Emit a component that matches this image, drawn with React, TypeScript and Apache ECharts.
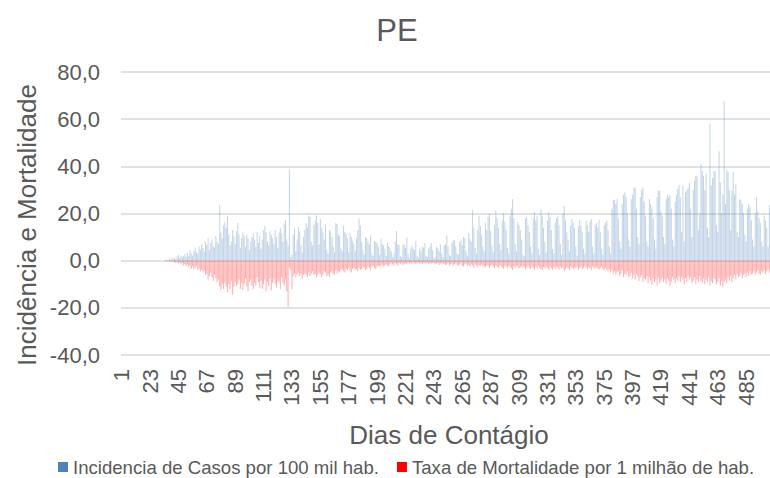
import React, { useEffect, useRef } from "react";
import * as echarts from "echarts";

const TITLE = "PE";
const SERIES_NAMES = ["Incidencia de Casos por 100 mil hab.", "Taxa de Mortalidade por 1 milhão de hab."];
const Y_TICKS = { min: -40, max: 80, interval: 20 };

const incidencia = [
  0,0,0,0,0,0,0,0,0,0,
  0,0,0,0,0,0,0,0,0,0,
  0,0,0,0,0,0,0,0,0,0,
  0,0,0,0,0.3,0.5,0.2,1.0,0.4,1.2,
  0.8,1.5,0.6,1.8,2.5,1.0,2.2,1.4,2.0,2.8,
  1.5,3.2,2.0,4.5,3.0,2.2,4.0,5.5,3.5,2.8,
  6.0,4.5,7.0,5.5,3.8,8.0,6.5,9.5,4.5,7.5,
  9.0,6.0,5.5,10.5,8.0,7.0,23.7,12.0,9.5,15.0,
  16.5,14.0,19.0,11.0,6.5,8.0,13.0,10.5,7.0,12.5,
  16.0,11.0,5.5,9.5,12.0,10.5,6.0,11.0,9.5,4.5,
  8.0,10.0,11.5,9.0,6.0,12.0,7.5,10.5,5.0,9.0,
  13.0,14.7,12.0,8.0,6.5,12.5,11.0,9.5,7.0,13.0,
  10.0,5.5,12.0,14.0,11.5,8.0,15.5,17.4,9.0,6.5,
  38.5,1.5,2.5,11.0,13.5,4.0,9.0,14.3,12.5,6.5,
  3.5,10.0,13.0,16.0,14.0,19.2,18.5,8.0,6.5,15.0,
  17.0,19.2,16.0,7.0,17.8,14.0,12.0,9.0,15.4,4.5,
  3.0,13.0,12.5,10.0,6.0,3.5,16.0,15.5,11.0,10.5,
  5.0,4.0,14.7,12.0,11.5,9.5,3.5,11.5,10.0,8.5,
  7.0,4.0,9.5,13.0,17.8,15.0,8.0,4.5,2.5,10.0,
  9.5,8.0,7.0,10.8,3.0,2.0,8.5,8.0,7.5,6.0,
  2.5,9.4,7.0,6.5,5.0,2.0,7.5,6.0,5.5,4.0,
  1.5,3.0,8.0,12.6,7.0,6.5,2.0,1.5,6.5,7.0,
  5.5,9.7,3.0,1.0,5.0,6.5,5.0,4.5,8.4,2.0,
  1.0,5.5,4.0,6.0,5.5,7.5,2.0,1.5,5.0,6.0,
  7.5,4.5,1.0,1.5,6.0,5.5,4.0,7.0,3.0,1.5,
  6.5,7.0,10.8,6.0,2.5,2.0,7.5,8.7,8.5,6.0,
  3.0,2.5,8.0,9.0,6.5,10.0,9.5,4.0,2.0,11.9,
  9.0,8.0,21.5,14.0,5.5,3.0,13.0,19.0,14.7,11.0,
  6.0,4.0,16.0,13.0,18.5,20.0,12.5,6.5,3.5,15.0,
  21.3,18.0,14.0,7.0,4.5,17.0,20.2,16.5,13.0,5.5,
  3.0,19.0,22.0,26.0,18.0,7.0,4.0,16.4,15.0,13.0,
  9.0,2.5,2.0,17.8,18.5,15.0,12.0,6.0,3.0,18.0,
  20.6,17.0,19.0,5.0,2.5,21.8,19.0,14.0,8.0,3.5,
  17.0,20.4,18.5,13.0,5.0,3.0,16.0,18.0,18.8,15.0,
  7.0,2.5,20.0,23.2,17.0,12.0,9.0,4.0,15.0,17.8,
  16.0,14.0,6.0,2.0,14.5,17.1,15.0,12.0,5.0,3.0,
  17.0,15.0,12.0,16.5,17.7,6.0,3.0,15.0,16.0,14.0,
  17.3,12.0,5.0,2.5,15.0,16.0,17.0,13.0,6.0,3.0,
  22.0,25.6,25.8,24.0,26.0,18.0,8.0,5.0,24.0,28.0,
  29.0,27.0,20.0,9.0,6.0,26.0,28.0,31.0,30.9,22.0,
  10.0,7.0,27.0,30.0,30.9,25.0,19.0,8.0,6.0,26.3,
  24.0,22.0,18.0,9.0,5.0,27.0,30.0,29.5,21.0,19.0,
  10.0,7.0,26.0,28.0,27.0,28.0,22.0,9.0,6.0,25.0,
  28.0,30.5,32.0,27.0,12.0,31.9,8.0,29.0,30.0,31.0,
  33.0,22.0,10.0,30.0,34.0,36.0,35.7,13.0,20.0,41.0,
  38.0,36.0,30.0,37.0,14.0,10.0,58.0,32.0,35.0,38.0,
  37.8,15.0,12.0,46.4,33.0,20.0,28.0,67.5,24.0,38.5,
  37.5,30.0,13.0,29.8,37.5,28.0,32.3,12.0,10.0,26.0,
  25.6,24.0,20.0,11.0,8.0,22.0,24.0,22.7,17.0,9.0,
  6.0,20.0,27.0,21.0,18.0,16.0,8.0,6.0,19.2,17.0,
  14.0,6.0,23.5
];

const mortalidade = [
  0,0,0,0,0,0,0,0,0,0,
  0,0,0,0,0,0,0,0,0,0,
  0,0,0,0,0,0,0,0,0,0,
  0,0,0,0,-0.2,-0.3,0,-0.5,-0.2,-0.6,
  -0.4,-0.8,-1.0,-0.5,-1.2,-0.8,-1.5,-1.0,-2.0,-1.4,
  -2.2,-1.6,-2.8,-2.0,-3.5,-2.5,-3.8,-3.0,-2.2,-4.0,
  -3.2,-4.5,-3.8,-5.0,-4.2,-6.0,-5.5,-8.0,-6.5,-5.0,
  -7.0,-8.5,-6.0,-7.5,-9.0,-8.0,-11.0,-12.5,-10.0,-12.0,
  -9.5,-11.0,-13.4,-10.0,-12.0,-8.5,-14.3,-11.0,-9.0,-10.5,
  -10.0,-8.0,-12.0,-9.5,-12.5,-10.0,-7.5,-11.0,-13.0,-9.0,
  -8.0,-10.5,-12.0,-9.5,-10.6,-7.0,-9.0,-11.5,-8.5,-12.0,
  -10.0,-8.0,-13.0,-9.0,-11.0,-7.5,-12.5,-9.5,-8.0,-10.0,
  -11.5,-8.5,-9.0,-12.0,-7.0,-9.5,-10.5,-8.0,-13.0,-19.5,
  -3.0,-4.0,-12.2,-6.5,-5.5,-7.0,-6.0,-5.0,-6.5,-5.5,
  -7.5,-6.0,-5.5,-6.0,-7.0,-5.0,-6.5,-5.5,-4.5,-6.0,
  -5.5,-7.0,-6.0,-5.0,-5.5,-7.0,-6.0,-4.5,-5.0,-6.5,
  -6.0,-7.0,-5.0,-4.5,-5.5,-6.0,-4.0,-5.5,-4.5,-5.0,
  -4.0,-3.5,-4.5,-5.0,-3.5,-4.0,-3.0,-4.5,-5.0,-3.5,
  -3.0,-4.0,-3.5,-4.5,-3.0,-4.0,-3.5,-2.5,-3.0,-4.0,
  -3.5,-2.5,-3.0,-4.0,-2.5,-2.0,-3.0,-3.5,-2.5,-2.0,
  -2.5,-2.0,-1.5,-2.5,-2.0,-1.5,-2.0,-2.5,-1.5,-1.0,
  -1.5,-2.0,-1.0,-1.5,-2.0,-1.0,-1.5,-1.0,-2.0,-1.5,
  -1.0,-1.5,-0.8,-1.2,-1.0,-1.5,-0.8,-1.0,-1.5,-1.0,
  -0.8,-1.2,-1.0,-1.5,-0.8,-1.0,-1.2,-0.8,-1.5,-1.0,
  -1.2,-0.8,-1.0,-1.5,-1.2,-1.0,-1.8,-1.2,-1.0,-1.5,
  -1.2,-1.8,-1.5,-1.0,-2.0,-1.5,-1.2,-2.0,-1.5,-1.0,
  -1.8,-2.2,-1.5,-1.0,-2.0,-2.5,-1.5,-1.2,-2.2,-1.8,
  -2.5,-1.5,-2.0,-3.0,-1.5,-2.0,-2.8,-1.8,-2.2,-1.5,
  -2.0,-3.0,-2.5,-1.8,-2.2,-3.0,-2.0,-1.5,-2.5,-3.2,
  -2.0,-2.5,-3.0,-1.8,-2.2,-2.8,-3.5,-2.0,-2.5,-3.0,
  -2.2,-2.8,-3.2,-4.0,-2.5,-3.0,-2.0,-2.5,-3.2,-2.8,
  -2.0,-3.0,-2.5,-3.5,-2.8,-2.2,-3.0,-3.5,-2.5,-3.0,
  -3.8,-2.5,-3.2,-2.0,-3.0,-3.5,-4.0,-2.8,-3.2,-2.5,
  -3.0,-3.8,-2.5,-3.2,-4.0,-2.8,-3.5,-2.5,-3.0,-3.8,
  -2.5,-3.2,-3.0,-4.5,-3.5,-2.8,-3.2,-4.0,-2.5,-3.0,
  -3.5,-2.8,-3.2,-2.5,-3.8,-3.0,-2.5,-3.5,-3.0,-2.2,
  -3.0,-3.5,-2.8,-3.2,-4.0,-2.5,-3.0,-3.5,-2.8,-3.2,
  -3.8,-3.0,-2.5,-3.5,-4.2,-3.0,-3.8,-4.5,-3.5,-5.0,
  -4.0,-5.5,-4.5,-6.0,-5.0,-4.5,-6.5,-5.5,-4.0,-7.0,
  -5.5,-6.0,-4.5,-7.0,-6.5,-5.0,-7.5,-6.0,-8.0,-5.5,
  -6.5,-8.5,-7.0,-6.0,-9.0,-7.5,-8.0,-6.5,-9.5,-7.0,
  -8.5,-10.0,-7.5,-9.0,-8.0,-10.5,-7.0,-9.5,-8.5,-7.5,
  -9.0,-8.0,-10.0,-7.5,-8.5,-10.8,-9.0,-7.0,-8.0,-9.5,
  -7.5,-8.5,-6.5,-9.0,-7.0,-8.0,-10.0,-7.5,-9.0,-6.5,
  -8.0,-7.0,-9.5,-8.5,-7.0,-10.0,-8.0,-9.0,-6.5,-8.5,
  -9.5,-7.5,-10.0,-8.0,-9.0,-7.0,-10.5,-8.5,-9.5,-7.5,
  -8.0,-10.0,-9.0,-7.5,-10.5,-8.5,-11.3,-9.0,-8.0,-9.5,
  -7.0,-8.5,-6.5,-9.0,-7.5,-6.0,-8.0,-5.5,-7.0,-6.5,
  -5.0,-7.5,-6.0,-5.5,-7.0,-5.0,-6.5,-4.5,-6.0,-5.5,
  -4.5,-6.0,-5.0,-4.0,-5.5,-6.0,-4.5,-5.0,-4.0,-5.5,
  -4.5,-3.5,-5.0
];

const dias = incidencia.map((_, i) => String(i + 1));

const FONT = "'Liberation Sans', Arial, sans-serif";
const TXT = "#595959";

export default function App() {
  const ref = useRef<HTMLDivElement>(null);
  useEffect(() => {
    if (!ref.current) return;
    const chart = echarts.init(ref.current, null, { renderer: "svg" });
    chart.setOption({
      animation: false,
      backgroundColor: "#ffffff",
      textStyle: { fontFamily: FONT },
      grid: { left: 121, right: 0, top: 72, bottom: 123 },
      legend: {
        left: 58,
        top: 456,
        padding: 0,
        itemWidth: 10,
        itemHeight: 10,
        itemGap: 18,
        icon: "rect",
        textStyle: { fontFamily: FONT, fontSize: 18.6, color: TXT, lineHeight: 22 },
        data: [
          { name: SERIES_NAMES[0], itemStyle: { color: "#4F81BD", opacity: 1 } },
          { name: SERIES_NAMES[1], itemStyle: { color: "#FF0000", opacity: 1 } },
        ],
      },
      graphic: [
        {
          type: "text",
          x: 397,
          y: 30,
          style: { text: TITLE, font: `31px ${FONT}`, fill: TXT, textAlign: "center", textVerticalAlign: "middle" },
        },
        {
          type: "text",
          x: 27,
          y: 225,
          rotation: Math.PI / 2,
          style: { text: "Incidência e Mortalidade", font: `26px ${FONT}`, fill: TXT, textAlign: "center", textVerticalAlign: "middle" },
        },
        {
          type: "text",
          x: 449,
          y: 435,
          style: { text: "Dias de Contágio", font: `26px ${FONT}`, fill: TXT, textAlign: "center", textVerticalAlign: "middle" },
        },
      ],
      xAxis: {
        type: "category",
        data: dias,
        axisLine: { show: false, onZero: false },
        axisTick: { show: false },
        axisLabel: { interval: 21, rotate: 90, fontSize: 22, color: TXT, margin: 14, fontFamily: FONT },
        splitLine: { show: false },
      },
      yAxis: {
        type: "value",
        min: Y_TICKS.min,
        max: Y_TICKS.max,
        interval: Y_TICKS.interval,
        axisLine: { show: false },
        axisTick: { show: false },
        axisLabel: {
          fontSize: 22,
          color: TXT,
          margin: 21,
          fontFamily: FONT,
          formatter: (v: number) => v.toFixed(1).replace(".", ","),
        },
        splitLine: { lineStyle: { color: "#D9D9D9", width: 1.5 } },
      },
      series: [
        {
          name: SERIES_NAMES[0],
          type: "bar",
          data: incidencia,
          barGap: "-100%",
          barCategoryGap: "25%",
          itemStyle: { color: "rgba(79,129,189,0.35)" },
        },
        {
          name: SERIES_NAMES[1],
          type: "bar",
          data: mortalidade,
          barGap: "-100%",
          barCategoryGap: "25%",
          itemStyle: { color: "rgba(255,0,0,0.33)" },
        },
      ],
    });
    return () => chart.dispose();
  }, []);
  return (
    <div
      ref={ref}
      style={{ position: "fixed", left: 0, top: 0, width: 770, height: 478, background: "#fff" }}
    />
  );
}
